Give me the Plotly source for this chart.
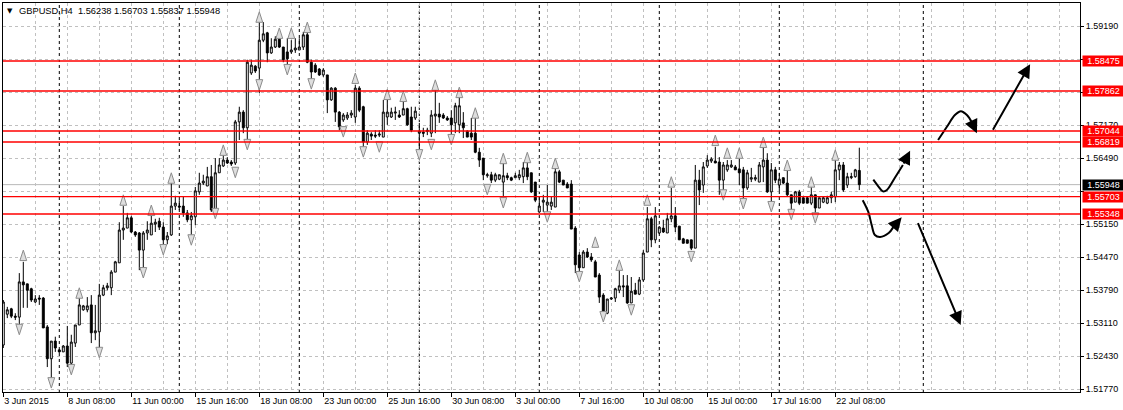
import plotly.graph_objects as go

# GBPUSD H4 candles (bar 0 = 3 Jun 2015 16:00)
opens = [
    1.5267, 1.5330, 1.5341, 1.5326, 1.5324, 1.5396, 1.5392, 1.5382, 1.5355, 1.5363,
    1.5363, 1.5304, 1.5239, 1.5275, 1.5257, 1.5253, 1.5265, 1.5230, 1.5271, 1.5308,
    1.5339, 1.5339, 1.5349, 1.5292, 1.5294, 1.5369, 1.5384, 1.5384, 1.5416, 1.5435,
    1.5502, 1.5506, 1.5527, 1.5498, 1.5496, 1.5461, 1.5496, 1.5492, 1.5514, 1.5520,
    1.5508, 1.5482, 1.5492, 1.5551, 1.5551, 1.5551, 1.5537, 1.5523, 1.5529, 1.5580,
    1.5598, 1.5592, 1.5611, 1.5543, 1.5619, 1.5633, 1.5645, 1.5641, 1.5639, 1.5723,
    1.5743, 1.5711, 1.5823, 1.5837, 1.5833, 1.5890, 1.5905, 1.5864, 1.5876, 1.5892,
    1.5876, 1.5866, 1.5866, 1.5870, 1.5870, 1.5876, 1.5901, 1.5845, 1.5839, 1.5831,
    1.5819, 1.5819, 1.5768, 1.5792, 1.5743, 1.5727, 1.5731, 1.5737, 1.5733, 1.5792,
    1.5754, 1.5682, 1.5698, 1.5696, 1.5696, 1.5692, 1.5733, 1.5733, 1.5741, 1.5737,
    1.5737, 1.5750, 1.5733, 1.5731, 1.5700, 1.5702, 1.5706, 1.5700, 1.5735, 1.5739,
    1.5737, 1.5731, 1.5731, 1.5721, 1.5717, 1.5721, 1.5704, 1.5700, 1.5700, 1.5661,
    1.5649, 1.5613, 1.5615, 1.5604, 1.5606, 1.5600, 1.5613, 1.5609, 1.5609, 1.5609,
    1.5611, 1.5629, 1.5619, 1.5600, 1.5539, 1.5559, 1.5553, 1.5551, 1.5549, 1.5621,
    1.5604, 1.5596, 1.5596, 1.5506, 1.5451, 1.5425, 1.5457, 1.5447, 1.5437, 1.5410,
    1.5369, 1.5332, 1.5361, 1.5363, 1.5379, 1.5388, 1.5388, 1.5353, 1.5379, 1.5371,
    1.5400, 1.5457, 1.5525, 1.5482, 1.5496, 1.5506, 1.5496, 1.5525, 1.5531, 1.5510,
    1.5484, 1.5482, 1.5482, 1.5465, 1.5604, 1.5594, 1.5633, 1.5643, 1.5643, 1.5641,
    1.5604, 1.5625, 1.5631, 1.5631, 1.5627, 1.5625, 1.5588, 1.5606, 1.5606, 1.5600,
    1.5631, 1.5645, 1.5580, 1.5625, 1.5594, 1.5609, 1.5598, 1.5574, 1.5559, 1.5580,
    1.5568, 1.5568, 1.5557, 1.5574, 1.5547, 1.5559, 1.5557, 1.5568, 1.5570, 1.5625,
    1.5635, 1.5594, 1.5609, 1.5611, 1.56238,
]
highs = [
    1.5359, 1.5345, 1.5343, 1.5332, 1.5414, 1.5437, 1.5392, 1.5384, 1.5369, 1.5369,
    1.5365, 1.5308, 1.5275, 1.5284, 1.5259, 1.5267, 1.5306, 1.5288, 1.5308, 1.5363,
    1.5349, 1.5365, 1.5369, 1.5349, 1.5392, 1.5390, 1.5394, 1.5420, 1.5439, 1.5518,
    1.5551, 1.5537, 1.5531, 1.5500, 1.5498, 1.5500, 1.5520, 1.5533, 1.5525, 1.5527,
    1.5518, 1.5498, 1.5598, 1.5572, 1.5563, 1.5570, 1.5543, 1.5539, 1.5590, 1.5619,
    1.5615, 1.5631, 1.5635, 1.5649, 1.5649, 1.5655, 1.5651, 1.5645, 1.5727, 1.5754,
    1.5747, 1.5850, 1.5850, 1.5839, 1.5927, 1.5927, 1.5907, 1.5894, 1.5898, 1.5894,
    1.5876, 1.5894, 1.5890, 1.5894, 1.5894, 1.5907, 1.5909, 1.5850, 1.5843, 1.5833,
    1.5833, 1.5819, 1.5794, 1.5794, 1.5745, 1.5741, 1.5743, 1.5747, 1.5799, 1.5796,
    1.5756, 1.5706, 1.5702, 1.5706, 1.5706, 1.5768, 1.5772, 1.5752, 1.5754, 1.5747,
    1.5768, 1.5752, 1.5754, 1.5754, 1.5721, 1.5711, 1.5711, 1.5747, 1.5788, 1.5762,
    1.5741, 1.5735, 1.5747, 1.5762, 1.5774, 1.5743, 1.5706, 1.5731, 1.5731, 1.5670,
    1.5649, 1.5619, 1.5621, 1.5619, 1.5615, 1.5639, 1.5619, 1.5611, 1.5619, 1.5625,
    1.5641, 1.5641, 1.5619, 1.5600, 1.5570, 1.5574, 1.5594, 1.5570, 1.5629, 1.5625,
    1.5604, 1.5600, 1.5604, 1.5510, 1.5457, 1.5461, 1.5465, 1.5455, 1.5441, 1.5414,
    1.5373, 1.5361, 1.5365, 1.5384, 1.5420, 1.5410, 1.5410, 1.5406, 1.5394, 1.5406,
    1.5461, 1.5549, 1.5529, 1.5549, 1.5510, 1.5523, 1.5537, 1.5588, 1.5549, 1.5510,
    1.5486, 1.5482, 1.5482, 1.5635, 1.5625, 1.5641, 1.5655, 1.5651, 1.5672, 1.5651,
    1.5641, 1.5645, 1.5645, 1.5635, 1.5649, 1.5631, 1.5625, 1.5629, 1.5615, 1.5641,
    1.5672, 1.5659, 1.5639, 1.5631, 1.5619, 1.5609, 1.5629, 1.5574, 1.5582, 1.5584,
    1.5570, 1.5570, 1.5590, 1.5574, 1.5568, 1.5570, 1.5572, 1.5580, 1.5645, 1.5641,
    1.5641, 1.5619, 1.5619, 1.5627, 1.56703,
]
lows = [
    1.5261, 1.5322, 1.5322, 1.5318, 1.5304, 1.5343, 1.5343, 1.5355, 1.5353, 1.5349,
    1.5302, 1.5222, 1.5189, 1.5253, 1.5251, 1.5253, 1.5222, 1.5216, 1.5263, 1.5308,
    1.5337, 1.5334, 1.5271, 1.5277, 1.5255, 1.5367, 1.5379, 1.5369, 1.5416, 1.5435,
    1.5482, 1.5506, 1.5496, 1.5488, 1.5420, 1.5420, 1.5482, 1.5492, 1.5498, 1.5502,
    1.5455, 1.5473, 1.5490, 1.5543, 1.5543, 1.5529, 1.5518, 1.5488, 1.5512, 1.5574,
    1.5594, 1.5592, 1.5539, 1.5539, 1.5619, 1.5631, 1.5637, 1.5633, 1.5635, 1.5686,
    1.5700, 1.5680, 1.5819, 1.5823, 1.5782, 1.5886, 1.5845, 1.5862, 1.5874, 1.5874,
    1.5845, 1.5833, 1.5862, 1.5864, 1.5870, 1.5870, 1.5843, 1.5805, 1.5823, 1.5817,
    1.5815, 1.5741, 1.5766, 1.5723, 1.5706, 1.5723, 1.5727, 1.5731, 1.5721, 1.5743,
    1.5666, 1.5676, 1.5686, 1.5690, 1.5692, 1.5692, 1.5717, 1.5731, 1.5727, 1.5731,
    1.5737, 1.5715, 1.5702, 1.5727, 1.5655, 1.5692, 1.5696, 1.5692, 1.5700, 1.5721,
    1.5729, 1.5725, 1.5696, 1.5700, 1.5700, 1.5690, 1.5692, 1.5686, 1.5659, 1.5631,
    1.5604, 1.5609, 1.5598, 1.5600, 1.5604, 1.5559, 1.5604, 1.5602, 1.5609, 1.5604,
    1.5598, 1.5604, 1.5578, 1.5559, 1.5537, 1.5539, 1.5537, 1.5543, 1.5549, 1.5598,
    1.5594, 1.5588, 1.5504, 1.5414, 1.5414, 1.5425, 1.5445, 1.5437, 1.5406, 1.5353,
    1.5328, 1.5330, 1.5359, 1.5355, 1.5373, 1.5365, 1.5351, 1.5353, 1.5371, 1.5369,
    1.5396, 1.5457, 1.5467, 1.5475, 1.5494, 1.5496, 1.5496, 1.5518, 1.5498, 1.5482,
    1.5475, 1.5475, 1.5461, 1.5465, 1.5553, 1.5578, 1.5629, 1.5639, 1.5639, 1.5574,
    1.5578, 1.5621, 1.5629, 1.5625, 1.5594, 1.5559, 1.5584, 1.5600, 1.5602, 1.5600,
    1.5600, 1.5578, 1.5549, 1.5598, 1.5580, 1.5596, 1.5570, 1.5537, 1.5559, 1.5553,
    1.5557, 1.5557, 1.5553, 1.5529, 1.5547, 1.5557, 1.5555, 1.5557, 1.5559, 1.5604,
    1.5580, 1.5588, 1.5606, 1.5609, 1.55837,
]
closes = [
    1.5355, 1.5339, 1.5326, 1.5324, 1.5396, 1.5390, 1.5379, 1.5359, 1.5361, 1.5361,
    1.5302, 1.5239, 1.5275, 1.5261, 1.5253, 1.5265, 1.5230, 1.5273, 1.5308, 1.5349,
    1.5347, 1.5347, 1.5292, 1.5296, 1.5369, 1.5384, 1.5388, 1.5416, 1.5437, 1.5502,
    1.5506, 1.5527, 1.5498, 1.5492, 1.5461, 1.5496, 1.5502, 1.5516, 1.5518, 1.5508,
    1.5482, 1.5490, 1.5551, 1.5557, 1.5549, 1.5537, 1.5523, 1.5531, 1.5582, 1.5598,
    1.5602, 1.5611, 1.5543, 1.5619, 1.5635, 1.5645, 1.5639, 1.5637, 1.5723, 1.5743,
    1.5711, 1.5845, 1.5839, 1.5827, 1.5890, 1.5903, 1.5864, 1.5876, 1.5892, 1.5876,
    1.5850, 1.5852, 1.5870, 1.5874, 1.5876, 1.5901, 1.5845, 1.5825, 1.5825, 1.5819,
    1.5829, 1.5768, 1.5792, 1.5743, 1.5713, 1.5737, 1.5737, 1.5741, 1.5792, 1.5747,
    1.5682, 1.5700, 1.5694, 1.5694, 1.5698, 1.5743, 1.5743, 1.5743, 1.5743, 1.5733,
    1.5750, 1.5717, 1.5706, 1.5745, 1.5704, 1.5700, 1.5704, 1.5737, 1.5739, 1.5733,
    1.5731, 1.5727, 1.5717, 1.5756, 1.5756, 1.5711, 1.5692, 1.5692, 1.5661, 1.5645,
    1.5615, 1.5615, 1.5604, 1.5615, 1.5615, 1.5613, 1.5609, 1.5604, 1.5613, 1.5615,
    1.5629, 1.5611, 1.5580, 1.5563, 1.5551, 1.5563, 1.5559, 1.5559, 1.5621, 1.5600,
    1.5594, 1.5588, 1.5504, 1.5431, 1.5425, 1.5457, 1.5447, 1.5441, 1.5406, 1.5365,
    1.5332, 1.5361, 1.5363, 1.5382, 1.5388, 1.5386, 1.5353, 1.5377, 1.5371, 1.5400,
    1.5455, 1.5525, 1.5482, 1.5531, 1.5508, 1.5498, 1.5525, 1.5531, 1.5508, 1.5482,
    1.5475, 1.5475, 1.5465, 1.5604, 1.5584, 1.5631, 1.5645, 1.5647, 1.5639, 1.5604,
    1.5635, 1.5635, 1.5635, 1.5625, 1.5619, 1.5588, 1.5619, 1.5609, 1.5609, 1.5635,
    1.5645, 1.5580, 1.5625, 1.5604, 1.5606, 1.5598, 1.5574, 1.5557, 1.5580, 1.5557,
    1.5557, 1.5557, 1.5574, 1.5547, 1.5568, 1.5568, 1.5568, 1.5574, 1.5625, 1.5635,
    1.5584, 1.5611, 1.5611, 1.5625, 1.55948,
]

# fractals: bar index and icon level
frac_up_bar = [5, 19, 30, 37, 42, 55, 64, 69, 72, 76, 88, 96, 100, 108, 114, 118,
               125, 131, 138, 148, 154, 161, 167, 178, 181, 184, 190, 196, 202, 208]
frac_up_lvl = [1.5461, 1.5384, 1.5574, 1.5553, 1.5619, 1.5676, 1.5948, 1.5915, 1.5915,
               1.5927, 1.5823, 1.5790, 1.5786, 1.5809, 1.5794, 1.5752, 1.5659, 1.5661,
               1.5649, 1.5488, 1.5441, 1.5574, 1.5611, 1.5696, 1.5670, 1.5670, 1.5692,
               1.5645, 1.5611, 1.5666]
frac_dn_bar = [4, 12, 17, 24, 35, 40, 47, 53, 58, 61, 64, 71, 77, 85, 90, 94, 104, 107,
               112, 121, 125, 136, 144, 150, 157, 172, 180, 185, 192, 197, 203]
frac_dn_lvl = [1.5288, 1.5179, 1.5206, 1.5241, 1.5404, 1.5451, 1.5471, 1.5525, 1.5609,
               1.5666, 1.5788, 1.5819, 1.5790, 1.5692, 1.5651, 1.5661, 1.5645, 1.5666,
               1.5676, 1.5574, 1.5547, 1.5518, 1.5396, 1.5314, 1.5328, 1.5437, 1.5563,
               1.5545, 1.5539, 1.5523, 1.5516]

levels = [1.58475, 1.57862, 1.57044, 1.56819, 1.55703, 1.55348]
bid = 1.55948
symbol = "GBPUSD,H4"
ohlc_now = ["1.56238", "1.56703", "1.55837", "1.55948"]

x_tick_bars = [0, 16, 32, 48, 64, 80, 96, 112, 128, 144, 160, 176, 192, 208]
x_tick_text = ["3 Jun 2015", "8 Jun 08:00", "11 Jun 00:00", "15 Jun 16:00",
               "18 Jun 08:00", "23 Jun 00:00", "25 Jun 16:00", "30 Jun 08:00",
               "3 Jul 00:00", "7 Jul 16:00", "10 Jul 08:00", "15 Jul 00:00",
               "17 Jul 16:00", "22 Jul 08:00"]
y_tick_vals = [1.51770, 1.52445, 1.53119, 1.53794, 1.54468, 1.55143, 1.55817,
               1.56492, 1.57166, 1.57841, 1.58515, 1.59190]
y_tick_text = ["1.51770", "1.52430", "1.53110", "1.53790", "1.54470", "1.55150", "",
               "1.56490", "1.57170", "", "", "1.59190"]
week_bars = [14, 44, 74, 104, 134, 164, 194, 230]

# hand-drawn forecast arrows (bar index, price)
curve_up_hump = [(233.7, 1.5686), (235.9, 1.5713), (237.9, 1.5737), (239.4, 1.5745),
                 (240.9, 1.5737), (242.2, 1.5721)]
curve_up_small = [(217.5, 1.5605), (218.7, 1.5592), (219.9, 1.5581), (220.9, 1.5584),
                  (222.9, 1.5609), (224.9, 1.5635)]
curve_dn_bounce = [(214.85, 1.5563), (216.25, 1.5539), (217.1, 1.5512), (217.9, 1.5492),
                   (219.2, 1.5488), (221.35, 1.5496), (222.5, 1.5508)]
arrow_heads = [
    ((243.4, 1.5700), (242.2, 1.5721)),
    ((226.7, 1.5664), (224.9, 1.5635)),
    ((224.6, 1.5528), (222.5, 1.5508)),
]
straight_arrows = [
    ((256.7, 1.5841), (247.2, 1.5704)),
    ((239.35, 1.5308), (228.5, 1.5519)),
]

FONT = "Liberation Sans, Arial, sans-serif"
GRID = "#c0c0c0"

fig = go.Figure()
fig.add_trace(go.Candlestick(
    x=list(range(len(opens))), open=opens, high=highs, low=lows, close=closes,
    increasing=dict(line=dict(color="black", width=1), fillcolor="white"),
    decreasing=dict(line=dict(color="black", width=1), fillcolor="black"),
    whiskerwidth=0, hoverinfo="skip", showlegend=False,
))
fig.add_trace(go.Scatter(
    x=frac_up_bar, y=frac_up_lvl, mode="markers", hoverinfo="skip", showlegend=False,
    marker=dict(symbol="arrow", size=11, color="#dedede",
                line=dict(color="#8c8c8c", width=1)),
))
fig.add_trace(go.Scatter(
    x=frac_dn_bar, y=frac_dn_lvl, mode="markers", hoverinfo="skip", showlegend=False,
    marker=dict(symbol="arrow", angle=180, size=11, color="#dedede",
                line=dict(color="#8c8c8c", width=1)),
))
for pts in (curve_up_hump, curve_up_small, curve_dn_bounce):
    fig.add_trace(go.Scatter(
        x=[p[0] for p in pts], y=[p[1] for p in pts], mode="lines",
        line=dict(color="black", width=2, shape="spline"),
        hoverinfo="skip", showlegend=False,
    ))

shapes = []
for b in week_bars:
    shapes.append(dict(type="line", xref="x", yref="paper", x0=b, x1=b, y0=0, y1=1,
                       line=dict(color="black", width=1, dash="3px,3px"), layer="below"))
shapes.append(dict(type="line", xref="paper", yref="y", x0=0, x1=1, y0=bid, y1=bid,
                   line=dict(color="#b8b8b8", width=1), layer="below"))
for lv in levels:
    shapes.append(dict(type="line", xref="paper", yref="y", x0=0, x1=1, y0=lv, y1=lv,
                       line=dict(color="#ff0000", width=1.4)))

annotations = []
for tip, tail in arrow_heads + straight_arrows:
    annotations.append(dict(
        x=tip[0], y=tip[1], ax=tail[0], ay=tail[1], xref="x", yref="y",
        axref="x", ayref="y", text="", showarrow=True, arrowhead=2,
        arrowsize=1.35, arrowwidth=2, arrowcolor="black", standoff=0,
    ))
# price tags on the right scale
for lv, bg in [(v, "#ff0000") for v in levels] + [(bid, "black")]:
    annotations.append(dict(
        x=1, y=lv, xref="paper", yref="y", xanchor="left", yanchor="middle",
        xshift=2, width=41, height=10, borderpad=0, align="center", valign="middle",
        text=f"{lv:.5f}", showarrow=False, bgcolor=bg,
        font=dict(family=FONT, size=9, color="white"),
    ))
annotations.append(dict(
    x=0, y=1, xref="paper", yref="paper", xanchor="left", yanchor="top",
    xshift=2, yshift=-2, text="▼", showarrow=False,
    font=dict(family="DejaVu Sans", size=7, color="black"),
))
annotations.append(dict(
    x=0, y=1, xref="paper", yref="paper", xanchor="left", yanchor="top",
    xshift=14, yshift=-1,
    text=symbol + "\u00a0\u00a0" + " ".join(ohlc_now), showarrow=False,
    font=dict(family=FONT, size=9.3, color="black"),
))

fig.update_layout(
    width=1123, height=410,
    margin=dict(l=3, r=43, t=3, b=18),
    paper_bgcolor="white", plot_bgcolor="white",
    font=dict(family=FONT, size=9, color="black"),
    shapes=shapes, annotations=annotations,
    xaxis=dict(
        range=[-0.075, 269.175], rangeslider=dict(visible=False),
        tickmode="array", tickvals=x_tick_bars, ticktext=x_tick_text,
        ticks="outside", ticklen=4, tickcolor="black",
        ticklabelposition="outside right",
        showline=True, mirror=True, linecolor="black", linewidth=1,
        showgrid=True, gridcolor=GRID, griddash="3px,3px", gridwidth=1,
        minor=dict(tick0=0, dtick=8, showgrid=True, gridcolor=GRID,
                   griddash="3px,3px", ticks=""),
        zeroline=False, fixedrange=True,
    ),
    yaxis=dict(
        side="right", range=[1.517101, 1.596601],
        tickmode="array", tickvals=y_tick_vals, ticktext=y_tick_text,
        ticks="outside", ticklen=3, tickcolor="black",
        showline=True, mirror=True, linecolor="black", linewidth=1,
        showgrid=True, gridcolor=GRID, griddash="3px,3px", gridwidth=1,
        zeroline=False, fixedrange=True,
    ),
)

# the page body has a default 8px margin; drop it so the chart fills the window
fig.write_html(
    "out.html",
    config={"displayModeBar": False},
    post_script="document.body.style.margin='0';document.body.style.overflow='hidden';",
)
